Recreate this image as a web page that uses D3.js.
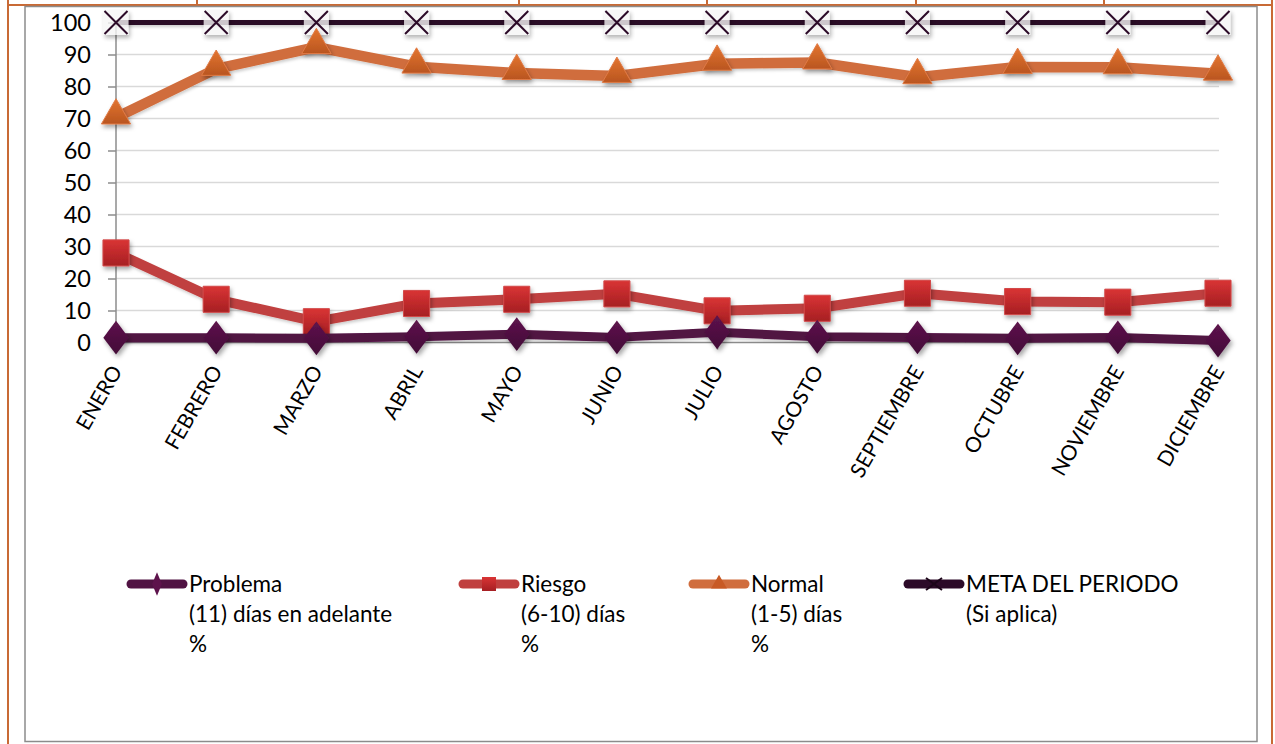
<!DOCTYPE html>
<html>
<head>
<meta charset="utf-8">
<script src="https://cdn.jsdelivr.net/npm/d3@7"></script>
<style>
  html, body { margin: 0; padding: 0; background: #fff; }
  svg { display: block; }
  text { font-family: Lato, "Open Sans", sans-serif; fill: #000; }
</style>
</head>
<body>
<svg id="chart" width="1275" height="744"></svg>
<script>
// ---- Data ----
const categories = ["ENERO","FEBRERO","MARZO","ABRIL","MAYO","JUNIO","JULIO","AGOSTO","SEPTIEMBRE","OCTUBRE","NOVIEMBRE","DICIEMBRE"];
const problema = [1.5, 1.5, 1.3, 1.8, 2.6, 1.6, 3.2, 1.8, 1.6, 1.3, 1.6, 0.6];
const riesgo   = [28, 13.5, 6.5, 12.2, 13.5, 15.2, 9.9, 10.7, 15.4, 12.8, 12.6, 15.4];
const normal   = [70.3, 85.5, 92.3, 86.2, 84.2, 83.3, 87.1, 87.5, 82.9, 86.1, 86, 84];
const meta     = [100,100,100,100,100,100,100,100,100,100,100,100];
const yTicks   = [0,10,20,30,40,50,60,70,80,90,100];
const legendLines = [
  ["Problema", "(11) días en adelante", "%"],
  ["Riesgo", "(6-10) días", "%"],
  ["Normal", "(1-5) días", "%"],
  ["META DEL PERIODO", "(Si aplica)"]
];

const svg = d3.select("#chart");
const defs = svg.append("defs");

// shadow filters (user space, large region so flat lines and translated marks render)
const f = defs.append("filter").attr("id","shadow").attr("filterUnits","userSpaceOnUse")
  .attr("x",-3000).attr("y",-3000).attr("width",6000).attr("height",6000);
f.append("feDropShadow").attr("dx",1.5).attr("dy",3).attr("stdDeviation",2).attr("flood-color","#000").attr("flood-opacity",0.35);
const fl = defs.append("filter").attr("id","lshadow").attr("filterUnits","userSpaceOnUse")
  .attr("x",-3000).attr("y",-3000).attr("width",6000).attr("height",6000);
fl.append("feDropShadow").attr("dx",1).attr("dy",2).attr("stdDeviation",1.5).attr("flood-color","#000").attr("flood-opacity",0.2);

function grad(id, c1, c2) {
  const g = defs.append("linearGradient").attr("id", id).attr("x1",0).attr("y1",0).attr("x2",0).attr("y2",1);
  g.append("stop").attr("offset","0%").attr("stop-color", c1);
  g.append("stop").attr("offset","100%").attr("stop-color", c2);
}
grad("gSq", "#D93434", "#A61F23");
grad("gTri", "#E37530", "#B9551F");
grad("gDia", "#5E134C", "#420B37");

// ---- Page decoration (table borders) ----
const orange = "#C86A35";
svg.append("line").attr("x1",8).attr("x2",8).attr("y1",0).attr("y2",744).attr("stroke",orange).attr("stroke-width",2);
svg.append("line").attr("x1",1272).attr("x2",1272).attr("y1",0).attr("y2",744).attr("stroke",orange).attr("stroke-width",2);
svg.append("line").attr("x1",8).attr("x2",1272).attr("y1",5).attr("y2",5).attr("stroke",orange).attr("stroke-width",2);
[197,519,707,916,1104].forEach(x => svg.append("line").attr("x1",x).attr("x2",x).attr("y1",0).attr("y2",5).attr("stroke",orange).attr("stroke-width",2));

// chart area border
svg.append("rect").attr("x",25).attr("y",6.5).attr("width",1232).attr("height",735)
  .attr("fill","#fff").attr("stroke","#8c8c8c").attr("stroke-width",1.5);

// ---- Scales ----
const x = d3.scalePoint().domain(categories).range([116, 1218]);
const y = d3.scaleLinear().domain([0, 100]).range([342.5, 22.5]);

// gridlines
svg.append("g").selectAll("line").data(yTicks.filter(d => d > 0)).join("line")
  .attr("x1", 116).attr("x2", 1219)
  .attr("y1", d => y(d)).attr("y2", d => y(d))
  .attr("stroke", "#d9d9d9").attr("stroke-width", 1.5);

// y axis
const yAxis = d3.axisLeft(y).tickValues(yTicks).tickSize(8).tickPadding(17).tickFormat(d3.format("d"));
const gy = svg.append("g").attr("transform","translate(116,0)").call(yAxis);
gy.select(".domain").attr("stroke","#8c8c8c").attr("stroke-width",1.5).attr("d", `M0,${y(0)+8}V${y(100)}`);
gy.selectAll(".tick line").attr("stroke","#8c8c8c").attr("stroke-width",1.5);
gy.selectAll(".tick text").style("font-family","Lato, sans-serif").style("font-size","23.5px").attr("fill","#000");

// x axis
const xAxis = d3.axisBottom(x).tickSize(7).tickFormat("");
const gx = svg.append("g").attr("transform",`translate(0,${y(0)})`).call(xAxis);
gx.select(".domain").attr("stroke","#8c8c8c").attr("stroke-width",1.5).attr("d","M116,0H1219");
gx.selectAll(".tick line").attr("stroke","#8c8c8c").attr("stroke-width",1.5);

// x labels
svg.append("g").selectAll("text").data(categories).join("text")
  .attr("transform", d => `translate(${x(d)+7},371) rotate(-60)`)
  .attr("text-anchor","end")
  .style("font-size","21px")
  .text(d => d);

// ---- Series ----
const line = d3.line().x((d,i) => x(categories[i])).y(d => y(d));

const series = [
  {name:"meta", data: meta, color:"#2C0A28", width:5, marker:"x"},
  {name:"normal", data: normal, color:"#D06D3D", width:10.5, marker:"tri"},
  {name:"riesgo", data: riesgo, color:"#C0403F", width:10, marker:"sq"},
  {name:"problema", data: problema, color:"#511343", width:9, marker:"dia"}
];

const sym = {
  tri: d3.symbol().type(d3.symbolTriangle),
  sq: d3.symbol().type(d3.symbolSquare),
  dia: d3.symbol().type(d3.symbolDiamond)
};
const fills = {tri:"url(#gTri)", sq:"url(#gSq)", dia:"url(#gDia)"};

function drawMarker(g, type, cx, cy) {
  if (type === "x") {
    const s = 11.5;
    g.append("rect").attr("x", cx - s - 1).attr("y", cy - s - 1).attr("width", 2*s+2).attr("height", 2*s+2)
      .attr("fill","#f6f6f6").attr("opacity",0.8).attr("filter","url(#shadow)");
    g.append("path").attr("d", `M${cx-s},${cy-s}L${cx+s},${cy+s}M${cx-s},${cy+s}L${cx+s},${cy-s}`)
      .attr("stroke","#2C0A28").attr("stroke-width",2);
  } else if (type === "tri") {
    g.append("path").attr("d", sym.tri.size(370)()).attr("transform", `translate(${cx},${cy-2})`)
      .attr("fill", fills.tri).attr("stroke","#E07A45").attr("stroke-width",1).attr("filter","url(#shadow)");
  } else if (type === "sq") {
    g.append("path").attr("d", sym.sq.size(680)()).attr("transform", `translate(${cx},${cy})`)
      .attr("fill", fills.sq).attr("stroke","#D24A4A").attr("stroke-width",1).attr("filter","url(#shadow)");
  } else if (type === "dia") {
    g.append("path").attr("d", sym.dia.size(330)()).attr("transform", `translate(${cx},${cy}) scale(1.3,1)`)
      .attr("fill", fills.dia).attr("filter","url(#shadow)");
  }
}

series.forEach(s => {
  const g = svg.append("g");
  g.append("path").datum(s.data).attr("d", line).attr("fill","none")
    .attr("stroke", s.color).attr("stroke-width", s.width).attr("stroke-linejoin","round")
    .attr("filter","url(#lshadow)");
  s.data.forEach((v,i) => drawMarker(g, s.marker, x(categories[i]), y(v)));
});

// ---- Legend ----
const legendX = [127, 459, 689, 904];
const legendOrder = [
  {color:"#511343", width:9, marker:"dia"},
  {color:"#C0403F", width:9, marker:"sq"},
  {color:"#D06D3D", width:9, marker:"tri"},
  {color:"#2C0A28", width:9, marker:"xl"}
];
legendOrder.forEach((s, k) => {
  const lx = legendX[k], ly = 584;
  const g = svg.append("g");
  g.append("line").attr("x1", lx+4).attr("x2", lx+56).attr("y1", ly).attr("y2", ly)
    .attr("stroke", s.color).attr("stroke-width", s.width).attr("stroke-linecap","round");
  const cx = lx + 30;
  if (s.marker === "dia") {
    g.append("path").attr("d", d3.symbol().type(d3.symbolDiamond).size(130)()).attr("transform", `translate(${cx},${ly}) scale(0.8,1.1)`).attr("fill","#5E134C");
  } else if (s.marker === "sq") {
    g.append("rect").attr("x", cx-7).attr("y", ly-7).attr("width",14).attr("height",14).attr("fill","url(#gSq)");
  } else if (s.marker === "tri") {
    g.append("path").attr("d", d3.symbol().type(d3.symbolTriangle).size(110)()).attr("transform", `translate(${cx},${ly})`).attr("fill","#C85A25");
  } else {
    g.append("path").attr("d", `M${cx-8},${ly-6}L${cx},${ly}L${cx-8},${ly+6}M${cx+8},${ly-6}L${cx},${ly}L${cx+8},${ly+6}`)
      .attr("stroke","#1c0519").attr("stroke-width",2).attr("fill","none");
  }
  const t = g.append("text").attr("x", lx + 62).attr("y", 592).style("font-size","22.5px");
  legendLines[k].forEach((txt, j) => {
    t.append("tspan").attr("x", lx + 62).attr("y", 592 + 30*j).text(txt);
  });
});
</script>
</body>
</html>
